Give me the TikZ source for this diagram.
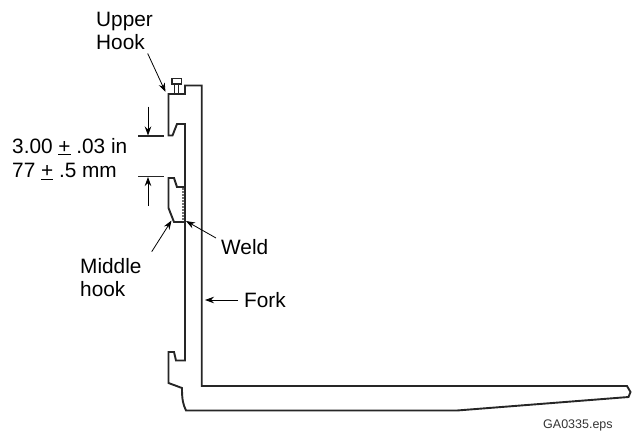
\documentclass[tikz,border=0pt]{standalone}
\usepackage{fontspec}
\setmainfont{Liberation Sans}
\usetikzlibrary{arrows.meta}

\begin{document}
\begin{tikzpicture}[x=1pt, y=-1pt,
        outline/.style={draw=black!85, line width=1.9pt, line join=miter},
        leader/.style={draw=black, line width=0.8pt, -{Stealth[length=9pt, width=6.5pt]}},
        tick/.style={draw=black!85, line width=1.1pt},
        label/.style={anchor=base west, inner sep=0pt, font=\fontsize{20.8}{23}\selectfont, align=left}]
            \useasboundingbox (0,0) rectangle (632,432);

            % fork body
            \draw[outline] (185,94) -- (185,85.5) -- (201.7,85.5) -- (201.7,386) -- (627,386)
                -- (630.5,392) -- (628.5,397) -- (457,410.5) -- (186,410.5)
                .. controls (183,404) and (182,400) .. (182,388)
                -- (168.5,383) -- (168.5,352) -- (174,352) -- (176,360.5) -- (185,360.5) -- (185,222)
                -- (174,222) -- (168.5,208) -- (168.5,178) -- (174,178) -- (177,187) -- (185,187)
                -- (185,222) -- (185,124) -- (177,124) -- (172.5,135.5) -- (168.5,135.5) -- (168.5,94) -- cycle;

            % bolt on top of the upper hook
            \draw[outline, line width=1.3pt] (172,78.3) rectangle (181.5,84);
            \foreach \x in {174.5,178.5} {
                \draw[outline, line width=1.3pt] (\x,84) -- (\x,94);
            }

            % weld
            \draw[draw=black!55, line width=1.5pt, dash pattern=on 2pt off 1pt] (183,188) -- (183,221);

            % free ends of the leaders
            \foreach \name/\x/\y in {upperFrom/147.7/53.5, upperTo/165.5/92,
                    topFrom/148/106.5, topTo/148/135.5, lowFrom/148/206, lowTo/148/177,
                    middleFrom/151.7/251.7, middleTo/171.5/220.5,
                    weldFrom/216/238, weldTo/186/221,
                    forkFrom/238/300, forkTo/205/300,
                    tickA/138/136, tickB/164/136, tickC/138/176.7, tickD/164/176.7} {
                \coordinate (\name) at (\x,\y);
            }

            \foreach \a/\b in {upperFrom/upperTo, topFrom/topTo, lowFrom/lowTo,
                    middleFrom/middleTo, weldFrom/weldTo, forkFrom/forkTo} {
                \draw[leader] (\a) -- (\b);
            }
            \draw[tick] (tickA) -- (tickB);
            \draw[tick] (tickC) -- (tickD);

            \node[label] (upperText) at (96,26) {Upper};
            \node[label] (hookText) at (96,49) {Hook};
            \node[label] (inchText) at (12,153) {3.00 \underline{+} .03 in};
            \node[label] (mmText) at (12,177.5) {77 \underline{+} .5 mm};
            \node[label] (middleText) at (80,273) {Middle};
            \node[label] (lowerText) at (80,296) {hook};
            \node[label] (weldText) at (221,254) {Weld};
            \node[label] (forkText) at (244,307) {Fork};
            \node[label, font=\fontsize{12.5}{14}\selectfont, text=black!80] (fileText) at (543,428) {GA0335.eps};
        \end{tikzpicture}
\end{document}
